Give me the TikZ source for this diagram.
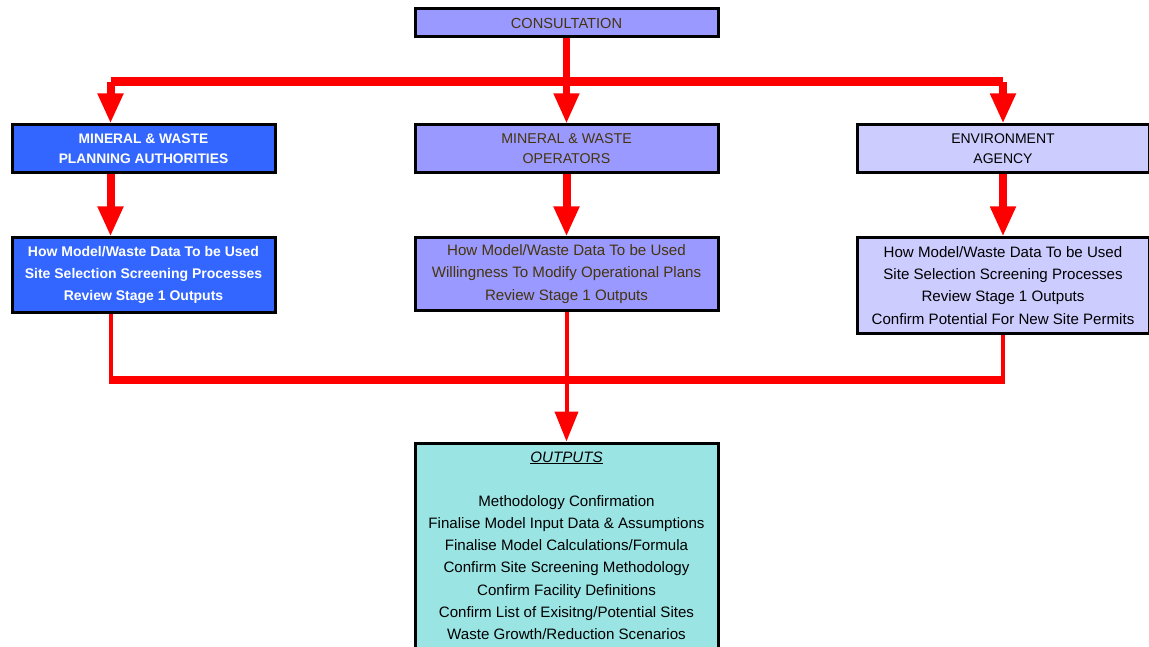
\documentclass[tikz,border=0pt]{standalone}
\usepackage{fontspec}
\setmainfont{Liberation Sans}
\usetikzlibrary{arrows.meta}
\definecolor{planblue}{RGB}{51,102,255}
\definecolor{operlilac}{RGB}{153,153,255}
\definecolor{agencylilac}{RGB}{204,204,255}
\definecolor{outteal}{RGB}{155,228,228}
\definecolor{linkred}{RGB}{255,0,0}
\definecolor{darkolive}{RGB}{70,52,12}

\begin{document}
\begin{tikzpicture}[x=1pt,y=-1pt,
                    font=\fontsize{15.1}{22.2}\selectfont]
      % styles
      \tikzstyle{box}=[rectangle,draw=black,line width=3pt,align=center,inner sep=0pt]
      \tikzstyle{planbox}=[box,fill=planblue,text=white,font=\fontsize{13.8}{20}\selectfont\bfseries]
      \tikzstyle{operbox}=[box,fill=operlilac,text=darkolive]
      \tikzstyle{agencybox}=[box,fill=agencylilac,text=black]
      \tikzstyle{feed}=[linkred,line width=8pt,-{Triangle[width=24pt,length=30pt]}]
      \tikzstyle{bus}=[linkred,line width=9pt]
      \tikzstyle{drop}=[linkred,line width=4pt]

      \useasboundingbox (0,0) rectangle (1149,647);

      % nodes
      \node[operbox,minimum width=303pt,minimum height=28pt,font=\fontsize{14.6}{20}\selectfont] (cons) at (566.5,23) {CONSULTATION};

      \node[planbox,minimum width=263pt,minimum height=48pt] (plan) at (143.5,149)
           {MINERAL \& WASTE\\PLANNING AUTHORITIES};
      \node[operbox,minimum width=303pt,minimum height=48pt,font=\fontsize{14.2}{20}\selectfont] (oper) at (566.5,149)
           {MINERAL \& WASTE\\OPERATORS};
      \node[agencybox,minimum width=292pt,minimum height=48pt,font=\fontsize{14}{20}\selectfont] (agency) at (1003,149)
           {ENVIRONMENT\\AGENCY};

      \node[planbox,minimum width=263pt,minimum height=74pt,font=\fontsize{14}{22}\selectfont\bfseries] (planrev) at (143.5,275)
           {How Model/Waste Data To be Used\\Site Selection Screening Processes\\Review Stage 1 Outputs};
      \node[operbox,minimum width=303pt,minimum height=72pt] (operrev) at (566.5,274)
           {How Model/Waste Data To be Used\\Willingness To Modify Operational Plans\\Review Stage 1 Outputs};
      \node[agencybox,minimum width=292pt,minimum height=95pt] (agencyrev) at (1003,285.5)
           {How Model/Waste Data To be Used\\Site Selection Screening Processes\\Review Stage 1 Outputs\\Confirm Potential For New Site Permits};

      \node[box,fill=outteal,minimum width=303pt,minimum height=205pt] (outs) at (566.5,545.5)
           {\underline{\textit{OUTPUTS}}\\[22pt]
            Methodology Confirmation\\
            Finalise Model Input Data \& Assumptions\\
            Finalise Model Calculations/Formula\\
            Confirm Site Screening Methodology\\
            Confirm Facility Definitions\\
            Confirm List of Exisitng/Potential Sites\\
            Waste Growth/Reduction Scenarios};

      \coordinate (topbus) at (566.5,82);
      \coordinate (lowbus) at (566.5,380);

      % top distribution
      \draw[bus] ([xshift=-33pt]plan.north |- topbus) -- (agency.north |- topbus);
      \draw[feed,line width=7pt] (cons.south) -- (oper.north);
      \draw[feed] ([xshift=-33pt]plan.north |- topbus) -- ([xshift=-33pt]plan.north);
      \draw[feed] (agency.north |- topbus) -- (agency.north);

      % review arrows
      \draw[feed] ([xshift=-33pt]plan.south) -- ([xshift=-33pt]planrev.north);
      \draw[feed] (oper.south) -- (operrev.north);
      \draw[feed] (agency.south) -- (agencyrev.north);

      % collection to outputs
      \draw[drop] ([xshift=-33pt]planrev.south) -- ([xshift=-33pt]planrev.south |- lowbus);
      \draw[drop] (agencyrev.south) -- (agencyrev.south |- lowbus);
      \draw[bus,line width=8pt] ([xshift=-35pt]planrev.south |- lowbus) -- ([xshift=2pt]agencyrev.south |- lowbus);
      \draw[drop,-{Triangle[width=23pt,length=30pt]}] (operrev.south) -- (outs.north);
    \end{tikzpicture}
\end{document}
